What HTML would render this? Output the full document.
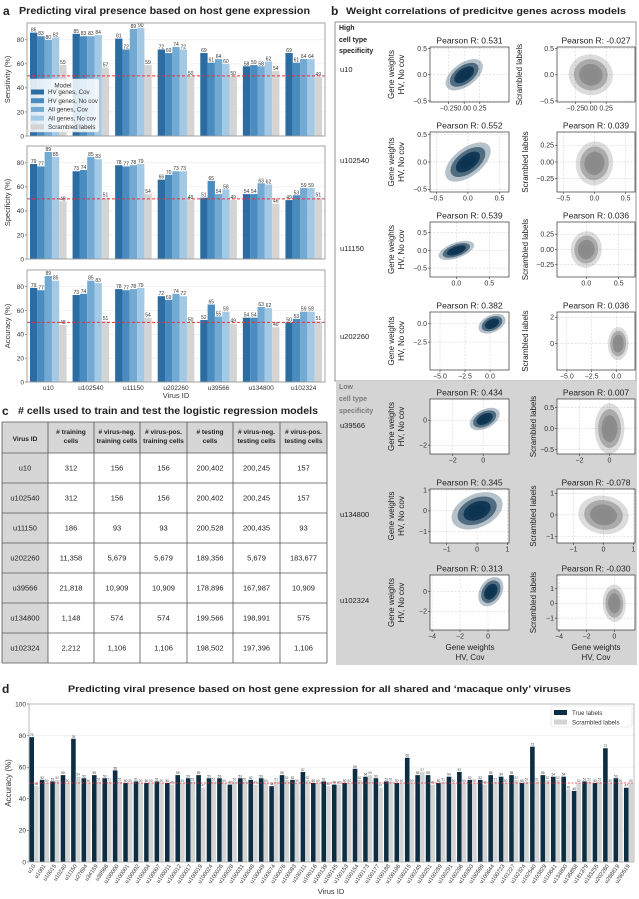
<!DOCTYPE html>
<html><head><meta charset="utf-8">
<style>
html,body{margin:0;padding:0;background:#fff;}
svg{display:block;font-family:"Liberation Sans",sans-serif;}
</style></head>
<body>
<svg id="fig" width="639" height="899" viewBox="0 0 639 899" xmlns="http://www.w3.org/2000/svg">
<defs></defs>
</svg>
<script>
// ---------- Panel a data ----------
const aViruses = ['u10','u102540','u11150','u202260','u39566','u134800','u102324'];
const aModels = ['HV genes, Cov','HV genes, No cov','All genes, Cov','All genes, No cov','Scrambled labels'];
const sensitivityVals = [[86,83,80,82,59],[85,83,83,84,57],[81,72,89,90,59],[72,69,74,72,50],[69,61,64,60,50],[58,59,58,62,54],[69,61,64,64,49]];
const specificityVals = [[79,77,89,85,48],[73,74,85,83,51],[78,77,78,79,54],[66,70,73,73,49],[51,65,54,58,49],[54,54,63,62,46],[49,53,59,59,51]];
const accuracyVals = [[79,77,89,85,48],[73,74,85,83,51],[78,77,78,79,54],[72,69,74,72,50],[52,65,55,59,49],[54,54,63,62,46],[50,53,59,59,51]];
const aYTicks = [0,20,40,60,80];
// ---------- Panel b data ----------
const bRowViruses = ['u10','u102540','u11150','u202260','u39566','u134800','u102324'];
const bPearsonLeft = [0.531,0.552,0.539,0.382,0.434,0.345,0.313];
const bPearsonRight = [-0.027,0.039,0.036,0.036,0.007,-0.078,-0.030];
// ---------- Panel c data ----------
const cHeaders = [['Virus ID'],['# training','cells'],['# virus-neg.','training cells'],['# virus-pos.','training cells'],['# testing','cells'],['# virus-neg.','testing cells'],['# virus-pos.','testing cells']];
const cRows = [
 ['u10','312','156','156','200,402','200,245','157'],
 ['u102540','312','156','156','200,402','200,245','157'],
 ['u11150','186','93','93','200,528','200,435','93'],
 ['u202260','11,358','5,679','5,679','189,356','5,679','183,677'],
 ['u39566','21,818','10,909','10,909','178,896','167,987','10,909'],
 ['u134800','1,148','574','574','199,566','198,991','575'],
 ['u102324','2,212','1,106','1,106','198,502','197,396','1,106']];
// ---------- Panel d data ----------
const dViruses = ['u10','u1001','u10015','u10240','u11150','u27694','u34159','u39566','u100000','u100001','u100002','u100004','u100007','u100011','u100012','u100017','u100019','u100024','u100026','u100028','u100031','u100048','u100049','u100074','u100076','u100093','u100111','u100116','u100139','u100145','u100153','u100154','u100173','u100177','u100188','u100196','u100215','u100245','u100251','u100289','u100291','u100296','u100303','u100599','u100644','u100723','u101227','u102324','u102540','u103829','u110641','u134800','u135858','u181379','u183255','u202260','u288819','u290519'];
const dTrue = [79,52,51,55,78,53,55,53,58,50,51,50,51,50,55,53,55,53,53,49,53,52,53,48,55,52,57,50,51,49,50,59,54,53,51,50,66,55,55,50,54,57,52,52,55,54,55,50,73,55,54,54,45,51,50,72,53,47];
const dScrambled = [48,50,52,50,54,50,51,51,51,50,50,50,50,49,50,51,47,51,50,51,51,49,50,51,52,50,52,50,48,49,50,52,55,47,51,50,50,57,49,51,50,50,50,49,51,50,52,51,51,52,52,46,50,51,51,50,50,50];
const dYTicks = [0,20,40,60,80,100];

const NS='http://www.w3.org/2000/svg';
const svg=document.getElementById('fig');
const defs=svg.querySelector('defs');
function mk(tag,attrs,parent){const e=document.createElementNS(NS,tag);for(const k in attrs)e.setAttribute(k,attrs[k]);(parent||svg).appendChild(e);return e;}
function tx(x,y,s,size,extra,parent){const e=mk('text',Object.assign({x:x,y:y,'font-size':size,fill:'#222'},extra||{}),parent);e.textContent=s;return e;}

// ---------- Titles ----------
let t;
t=tx(3,15,'a',12,{'font-weight':'bold'});


t=tx(19,14,'Predicting viral presence based on host gene expression',10,{'font-weight':'bold',textLength:291,lengthAdjust:'spacingAndGlyphs'});


t=tx(331,15,'b',12,{'font-weight':'bold'});


t=tx(346,14,'Weight correlations of predicitve genes across models',9.5,{'font-weight':'bold',textLength:280,lengthAdjust:'spacingAndGlyphs'});


t=tx(2,415,'c',12,{'font-weight':'bold'});


t=tx(18,414,'# cells used to train and test the logistic regression models',10,{'font-weight':'bold',textLength:300,lengthAdjust:'spacingAndGlyphs'});


t=tx(2,693,'d',12,{'font-weight':'bold'});


t=tx(68,692,"Predicting viral presence based on host gene expression for all shared and \u2018macaque only\u2019 viruses",9.5,{'font-weight':'bold',textLength:503,lengthAdjust:'spacingAndGlyphs'});



// ---------- Panel a ----------
const aColors=['#2b6ca3','#4a8cc0','#72aad3','#a3c9e4','#d4d4d4'];
const aPlots=[
 {top:23,bottom:136,vals:sensitivityVals,label:'Sensitivity (%)',name:'sensitivity'},
 {top:146,bottom:259,vals:specificityVals,label:'Specificity (%)',name:'specificity'},
 {top:270,bottom:382,vals:accuracyVals,label:'Accuracy (%)',name:'accuracy'}];
const ax0=27, ax1=325, aYmax=94;
const aBand=(ax1-ax0)/aViruses.length;
aPlots.forEach(p=>{
  const g=mk('g',{});
  
  
  const y=v=>p.bottom-v*(p.bottom-p.top)/aYmax;
  aYTicks.forEach(v=>{
    const gl=mk('line',{x1:ax0,x2:ax1,y1:y(v),y2:y(v),stroke:'#e8e8e8','stroke-width':0.6},g);
    
    
    const tl=tx(ax0-3,y(v)+2.3,String(v),6.5,{'text-anchor':'end',fill:'#333'},g);
    
    
    const tk=mk('line',{x1:ax0-2,x2:ax0,y1:y(v),y2:y(v),stroke:'#555','stroke-width':0.6},g);
    
    
  });
  const bw=(aBand-6)/5;
  p.vals.forEach((grp,i)=>{
    grp.forEach((v,j)=>{
      const x=ax0+i*aBand+3+j*bw;
      const r=mk('rect',{x:x,y:y(v),width:bw,height:y(0)-y(v),fill:aColors[j]},g);
      
      
      const vl=tx(x+bw/2,y(v)-1,String(v),5,{'text-anchor':'middle',fill:'#333'},g);
      
      
    });
  });
  const ref=mk('line',{x1:ax0,x2:ax1,y1:y(50),y2:y(50),stroke:'#e8323a','stroke-width':1,'stroke-dasharray':'3,2'},g);
  
  
  const fr=mk('rect',{x:ax0,y:p.top,width:ax1-ax0,height:p.bottom-p.top,fill:'none',stroke:'#999','stroke-width':0.9},g);
  
  
  const yl=tx(0,0,p.label,7.5,{'text-anchor':'middle',fill:'#333',transform:'translate(10,'+((p.top+p.bottom)/2)+') rotate(-90)'},g);
  
  
});
aViruses.forEach((v,i)=>{
  const l=tx(ax0+(i+0.5)*aBand,390,v,6.5,{'text-anchor':'middle',fill:'#333'});
  
  
});
t=tx(176,398,'Virus ID',7.5,{'text-anchor':'middle',fill:'#333'});


// legend a
const lg=mk('g',{});


mk('rect',{x:28,y:79,width:71,height:53,fill:'#fff','fill-opacity':0.85,stroke:'#ddd','stroke-width':0.6,rx:2},lg);
tx(63,87.5,'Model',6.3,{'text-anchor':'middle',fill:'#333'},lg);
aModels.forEach((m,j)=>{
  const yy=92+j*8.7;
  const pr=mk('rect',{x:31,y:yy-2.5,width:13,height:5,fill:aColors[j]},lg);
  
  
  tx(48,yy+2.2,m,6.2,{fill:'#333'},lg);
});

// ---------- Panel b ----------
const bBox=mk('rect',{x:335,y:22,width:301,height:359,fill:'#fff',stroke:'#888','stroke-width':0.9});


const bBox2=mk('rect',{x:336,y:381,width:301,height:284,fill:'#d4d4d4'});


[['High',30],['cell type',42],['specificity',53]].forEach(a=>{const e=tx(339,a[1],a[0],7,{'font-weight':'bold',fill:'#222'});});
[['Low',389],['cell type',401],['specificity',413]].forEach(a=>{const e=tx(339,a[1],a[0],7,{'font-weight':'bold',fill:'#7a7a7a'});});
const bRowY=[[47,102],[132,192],[222,277],[312,370],[399,454],[489,543],[575,630]];
const bLabelY=[72,163,251,339,428,517,603];
// per scatter: [xmin,xmax,xticks,ymin,ymax,yticks,cx,cy,sx,sy]
const bLeftCfg=[
 [-0.55,0.72,[-0.25,0,0.25],-0.52,0.53,[-0.5,0,0.5],0,0,0.1,0.1],
 [-0.6,0.65,[-0.5,0,0.5],-0.55,0.55,[-0.5,0,0.5],0,0,0.12,0.12],
 [-0.4,0.8,[0,0.5],-0.75,0.8,[-0.5,0,0.5],0,0,0.09,0.09],
 [-6,1.9,[-5,-2.5,0],-6.3,1.6,[-2.5,0],0.2,0,0.45,0.45],
 [-3.5,1.7,[-2,0],-2.7,1.7,[-2,0],0.1,0.1,0.33,0.3],
 [-1.55,1.05,[-1,0,1],-1.55,1.05,[-1,0,1],0,0,0.28,0.3],
 [-4.15,1.5,[-4,-2,0],-3.9,1.7,[-2,0],0.2,0,0.3,0.5]];
const bRightCfg=[
 [-0.55,0.72,[-0.25,0,0.25],-0.52,0.53,[-0.5,0,0.5],0,0,0.12,0.13],
 [-0.6,0.65,[-0.5,0,0.5],-0.45,0.45,[-0.25,0,0.25],0,-0.02,0.1,0.11],
 [-0.45,0.75,[0,0.5],-0.45,0.45,[-0.25,0,0.25],0,0,0.08,0.1],
 [-6,1.9,[-5,-2.5,0],-2.0,2.4,[0,2],0.2,0,0.35,0.42],
 [-3.5,1.7,[-2,0],-0.6,0.7,[-0.5,0,0.5],0,0,0.33,0.2],
 [-1.55,1.05,[-1,0,1],-1.3,1.2,[-1,0,1],0,0,0.28,0.3],
 [-4.15,1.5,[-4,-2,0],-1.8,1.9,[-1,0,1],0,0,0.28,0.42]];
function scatter(x0,x1,y0,y1,cfg,r,color,title,name,rowIdx){
  const g=mk('g',{});
  
  
  const [xmin,xmax,xt,ymin,ymax,yt,cx,cy,sx,sy]=cfg;
  const X=v=>x0+(v-xmin)/(xmax-xmin)*(x1-x0);
  const Y=v=>y1-(v-ymin)/(ymax-ymin)*(y1-y0);
  mk('rect',{x:x0,y:y0,width:x1-x0,height:y1-y0,fill:'#fff'},g);
  xt.forEach(v=>{
    mk('line',{x1:X(v),x2:X(v),y1:y0,y2:y1,stroke:'#ccc','stroke-width':0.5,'stroke-dasharray':'2,1.5'},g);
    mk('line',{x1:X(v),x2:X(v),y1:y1,y2:y1+2,stroke:'#333','stroke-width':0.6},g);
    const l=tx(X(v),y1+8.5,(v<0?'\u2212':'')+fmt(Math.abs(v),xt),7,{'text-anchor':'middle',fill:'#333'},g);
    
    
  });
  yt.forEach(v=>{
    mk('line',{x1:x0,x2:x1,y1:Y(v),y2:Y(v),stroke:'#ccc','stroke-width':0.5,'stroke-dasharray':'2,1.5'},g);
    mk('line',{x1:x0-2,x2:x0,y1:Y(v),y2:Y(v),stroke:'#333','stroke-width':0.6},g);
    const l=tx(x0-3,Y(v)+2.4,(v<0?'\u2212':'')+fmt(Math.abs(v),yt),7,{'text-anchor':'end',fill:'#333'},g);
    
    
  });
  const cid='clip'+name;
  const cp=mk('clipPath',{id:cid},defs);
  mk('rect',{x:x0,y:y0,width:x1-x0,height:y1-y0},cp);
  const kx=(x1-x0)/(xmax-xmin), ky=(y1-y0)/(ymax-ymin);
  const sxp=sx*kx, syp=sy*ky, b=-r*sxp*syp;
  const a=sxp*sxp, d=syp*syp;
  const m=(a+d)/2, q=Math.sqrt(((a-d)/2)**2+b*b);
  const l1=Math.sqrt(m+q), l2=Math.sqrt(Math.max(m-q,0.01));
  const ang=0.5*Math.atan2(2*b,a-d)*180/Math.PI;
  const cg=mk('g',{'clip-path':'url(#'+cid+')'},g);
  [[3.0,0.3],[2.3,0.6],[1.6,0.9],[1.0,1]].forEach(s=>{
    const e=mk('ellipse',{cx:X(cx),cy:Y(cy),rx:l1*s[0],ry:l2*s[0],fill:color,'fill-opacity':s[1],transform:'rotate('+ang+' '+X(cx)+' '+Y(cy)+')'},cg);
    
    
  });
  mk('rect',{x:x0,y:y0,width:x1-x0,height:y1-y0,fill:'none',stroke:'#333','stroke-width':0.7},g);
  const tt=tx((x0+x1)/2,y0-3.5,title,8.5,{'text-anchor':'middle',fill:'#222'},g);
  
  
}
function fmt(v,ticks){
  const dec=ticks.some(t=>Math.abs(t*4-Math.round(t*4))<1e-9&&Math.abs(t*2-Math.round(t*2))>1e-9)?2:(ticks.some(t=>t!==Math.round(t))?1:0);
  return v.toFixed(dec);
}
bRowViruses.forEach((v,i)=>{
  const [y0,y1]=bRowY[i];
  const rl=tx(340,bLabelY[i],v,7.5,{fill:'#222'});
  
  
  scatter(430,509,y0,y1,bLeftCfg[i],bPearsonLeft[i],'#0c3350','Pearson R: '+bPearsonLeft[i].toFixed(3),'scatter-'+v+'-hv',i);
  scatter(557,635,y0,y1,bRightCfg[i],bPearsonRight[i],'#8a8a8a','Pearson R: '+bPearsonRight[i].toFixed(3),'scatter-'+v+'-scrambled',i);
  const cy=(y0+y1)/2;
  const l1=tx(0,0,'Gene weights',8,{'text-anchor':'middle',fill:'#222',transform:'translate(394,'+cy+') rotate(-90)'});
  
  
  const l2=tx(0,0,'HV, No cov',8,{'text-anchor':'middle',fill:'#222',transform:'translate(404,'+cy+') rotate(-90)'});
  
  
  const l3=tx(0,0,'Scrambled labels',8,{'text-anchor':'middle',fill:'#222',transform:'translate('+(i===0?522:(i>=4?536:528))+','+cy+') rotate(-90)'});
  
  
});
[[470],[596]].forEach(c=>{
  const a=tx(c[0],650,'Gene weights',8,{'text-anchor':'middle',fill:'#222'});
  
  
  const b=tx(c[0],660,'HV, Cov',8,{'text-anchor':'middle',fill:'#222'});
  
  
});

// ---------- Panel c table ----------
const cCols=[2,48,94,140,187,233,280,327];
const tg=mk('g',{});


const hTop=422,hBot=453,rowH=30;
mk('rect',{x:2,y:hTop,width:325,height:hBot-hTop,fill:'#d6d6d6'},tg);
mk('rect',{x:2,y:hBot,width:46,height:rowH*cRows.length,fill:'#d6d6d6'},tg);
cHeaders.forEach((h,j)=>{
  const cx=(cCols[j]+cCols[j+1])/2;
  h.forEach((line,k)=>{
    const yy=h.length===1?441:434+k*9;
    const e=tx(cx,yy,line,6.6,{'text-anchor':'middle','font-weight':'bold',fill:'#222'},tg);
    
    
  });
});
cRows.forEach((row,i)=>{
  const cy=hBot+i*rowH+rowH/2+2.6;
  row.forEach((v,j)=>{
    const e=tx((cCols[j]+cCols[j+1])/2,cy,v,7.5,{'text-anchor':'middle',fill:'#222'},tg);
    
    
  });
});
for(let i=0;i<=cRows.length+1;i++){
  const yy=i===0?hTop:hBot+(i-1)*rowH;
  mk('line',{x1:2,x2:327,y1:yy,y2:yy,stroke:'#555','stroke-width':0.8},tg);
}
cCols.forEach(x=>mk('line',{x1:x,x2:x,y1:hTop,y2:hBot+rowH*cRows.length,stroke:'#555','stroke-width':0.8},tg));

// ---------- Panel d ----------
const dx0=29,dx1=634,dTop=704,dBot=862;
const dY=v=>dBot-v*(dBot-dTop)/100;
const dBand=(dx1-dx0)/dViruses.length;
const dg=mk('g',{});


dYTicks.forEach(v=>{
  if(v>0&&v<100){const gl=mk('line',{x1:dx0,x2:dx1,y1:dY(v),y2:dY(v),stroke:'#ececec','stroke-width':0.6},dg);
  
  }
  mk('line',{x1:dx0-2,x2:dx0,y1:dY(v),y2:dY(v),stroke:'#555','stroke-width':0.6},dg);
  const l=tx(dx0-3,dY(v)+2.3,String(v),6.5,{'text-anchor':'end',fill:'#333'},dg);
  
  
});
const dbw=dBand*0.44;
dViruses.forEach((v,i)=>{
  const x=dx0+i*dBand+0.4;
  const r1=mk('rect',{x:x,y:dY(dTrue[i]),width:dbw,height:dBot-dY(dTrue[i]),fill:'#0c2d42'},dg);
  
  
  const r2=mk('rect',{x:x+dbw,y:dY(dScrambled[i]),width:dbw,height:dBot-dY(dScrambled[i]),fill:'#d4d4d4'},dg);
  
  
  const v1=tx(x+dbw/2,dY(dTrue[i])-1,String(dTrue[i]),3.2,{'text-anchor':'middle',fill:'#333'},dg);
  
  
  const v2=tx(x+dbw*1.5,dY(dScrambled[i])-1,String(dScrambled[i]),3.2,{'text-anchor':'middle',fill:'#555'},dg);
  
  
  const cx=x+dbw;
  const xl=tx(0,0,v,5.6,{'text-anchor':'end',fill:'#333',transform:'translate('+(cx+1.5)+','+(dBot+4)+') rotate(-55)'},dg);
  
  
});
const dref=mk('line',{x1:dx0,x2:dx1,y1:dY(50),y2:dY(50),stroke:'#e8323a','stroke-width':0.8,'stroke-dasharray':'2,1.5'},dg);


mk('rect',{x:dx0,y:dTop,width:dx1-dx0,height:dBot-dTop,fill:'none',stroke:'#aaa','stroke-width':0.8},dg);
t=tx(0,0,'Accuracy (%)',8,{'text-anchor':'middle',fill:'#333',transform:'translate(11,'+((dTop+dBot)/2)+') rotate(-90)'});


t=tx(331,894,'Virus ID',7.5,{'text-anchor':'middle',fill:'#333'});


const dl=mk('g',{});


mk('rect',{x:551,y:706,width:81,height:21,fill:'#fff',stroke:'#ddd','stroke-width':0.6,rx:2},dl);
let le=mk('rect',{x:554,y:710,width:13,height:5,fill:'#0c2d42'},dl);


tx(572,715,'True labels',6.2,{fill:'#333'},dl);
le=mk('rect',{x:554,y:719.5,width:13,height:5,fill:'#d4d4d4'},dl);


tx(572,724.5,'Scrambled labels',6.2,{fill:'#333'},dl);
</script>
</body></html>
